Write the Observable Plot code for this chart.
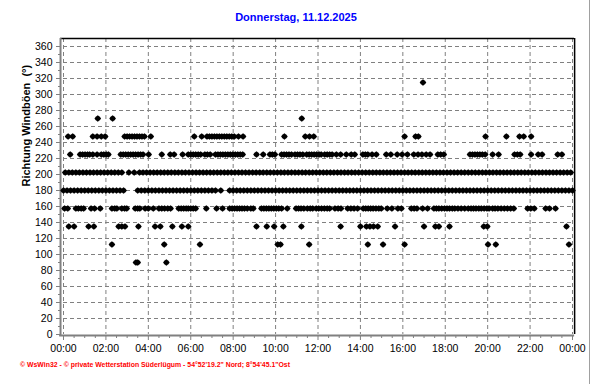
<!DOCTYPE html>
<html><head><meta charset="utf-8">
<script src="https://cdn.jsdelivr.net/npm/d3@7"></script>
<script src="https://cdn.jsdelivr.net/npm/@observablehq/plot@0.6"></script>
<style>
body{margin:0;background:#fff;}
#wrap{position:relative;width:592px;height:384px;overflow:hidden;font-family:"Liberation Sans",Arial,sans-serif;background:#fff;}
#chart{position:absolute;left:0;top:0;}
#title{position:absolute;left:0;width:592px;top:11px;text-align:center;color:#0000ff;font-weight:bold;font-size:11px;line-height:13px;}
#edge{position:absolute;left:589px;top:0;width:1px;height:384px;background:#a0a0a0;}
#footer{position:absolute;left:0;top:356px;}
</style></head><body>
<div id="wrap"><div id="chart"></div><div id="title">Donnerstag, 11.12.2025</div><div id="edge"></div>
<svg id="footer" width="320" height="16"><text x="20" y="11" fill="#ff0000" font-weight="bold" font-size="7" font-family="Liberation Sans, Arial, sans-serif" textLength="270" lengthAdjust="spacingAndGlyphs">© WsWin32  -  © private Wetterstation Süderlügum  -  54°52'19.2" Nord; 8°54'45.1"Ost</text></svg>
</div>
<script>
// Wind gust direction levels (degrees) and the times (HH:MM) at which each level was recorded
const t315 = ["16:57"];
const t270 = ["1:37","2:19","11:14"];
const t247 = ["0:13","0:26","1:23","1:35","1:47","1:58","2:53","3:00","3:07","3:14","3:21","3:28","3:35","3:42","3:49","4:07","6:10","6:31","6:46","6:53","7:00","7:07","7:14","7:21","7:28","7:35","7:42","7:49","7:56","8:03","8:15","8:28","10:25","11:24","11:36","11:48","16:05","16:36","16:44","19:54","20:53","21:30","21:42","22:03"];
const t225 = ["0:19","0:47","0:54","1:01","1:08","1:14","1:23","1:35","1:47","1:54","2:01","2:07","2:42","2:49","2:56","3:03","3:10","3:17","3:24","3:31","3:38","3:45","4:01","4:38","5:02","5:13","5:37","5:53","6:00","6:07","6:14","6:21","6:28","6:40","6:47","6:55","7:10","7:17","7:24","7:31","7:38","7:45","7:52","7:59","8:06","8:13","8:20","8:27","9:06","9:25","9:44","9:51","9:58","10:17","10:24","10:31","10:38","10:45","10:55","11:02","11:09","11:17","11:28","11:35","11:42","11:49","11:56","12:03","12:09","12:19","12:26","12:33","12:40","12:52","13:04","13:20","13:34","13:44","14:07","14:14","14:21","14:33","14:45","15:13","15:26","15:44","15:58","16:13","16:31","16:43","16:54","17:06","17:17","17:39","17:47","17:56","19:10","19:17","19:24","19:31","19:38","19:45","19:53","20:14","20:31","21:16","21:24","21:32","22:03","22:23","22:34","23:18","23:30"];
const t202 = `0:05 0:15 0:25 0:35 0:45 0:55 1:05 1:15 1:25 1:35 1:45 1:55 2:05 2:15 2:25 2:35 2:45
3:05 3:20 3:35 3:45 3:55
4:05 4:15 4:25 4:35 4:45 4:55 5:05 5:15 5:25 5:35 5:45 5:55
6:05 6:15 6:25 6:35 6:45 6:55 7:05 7:15 7:25 7:35 7:45 7:55
8:05 8:15 8:25 8:35 8:45 8:55 9:05 9:15 9:25 9:35 9:45 9:55
10:05 10:15 10:25 10:35 10:45 10:55 11:05 11:15 11:25 11:35 11:45 11:55
12:05 12:15 12:25 12:35 12:45 12:55 13:05 13:15 13:25 13:35 13:45 13:55
14:05 14:15 14:25 14:35 14:45 14:55 15:05 15:15 15:25 15:35 15:45 15:55
16:05 16:15 16:25 16:35 16:45 16:55 17:05 17:15 17:25 17:35 17:45 17:55
18:05 18:15 18:25 18:35 18:45 18:55 19:05 19:15 19:25 19:35 19:45 19:55
20:05 20:15 20:25 20:35 20:45 20:55 21:05 21:15 21:25 21:35 21:45 21:55
22:05 22:15 22:25 22:35 22:45 22:55 23:05 23:15 23:25 23:35 23:45 23:55`.trim().split(/\s+/);
const t180 = `0:00 0:10 0:20 0:30 0:40 0:50 1:00 1:10 1:20 1:30 1:40 1:50 2:00 2:10 2:20 2:30 2:40 2:50
3:30 3:40 3:50 4:00 4:10 4:20 4:30 4:40 4:50 5:00 5:10 5:20 5:30 5:40 5:50
6:00 6:10 6:20 6:30 6:40 6:50 7:00 7:10 7:25 7:50
8:00 8:10 8:20 8:30 8:40 8:50 9:00 9:10 9:20 9:30 9:40 9:50
10:00 10:10 10:20 10:30 10:40 10:50 11:00 11:10 11:20 11:30 11:40 11:50
12:00 12:10 12:20 12:30 12:40 12:50 13:00 13:10 13:20 13:30 13:40 13:50
14:00 14:10 14:20 14:30 14:40 14:50 15:00 15:10 15:20 15:30 15:40 15:50
16:00 16:10 16:20 16:30 16:40 16:50 17:00 17:10 17:20 17:30 17:40 17:50
18:00 18:10 18:20 18:30 18:40 18:50 19:00 19:10 19:20 19:30 19:40 19:50
20:00 20:10 20:20 20:30 20:40 20:50 21:00 21:10 21:20 21:30 21:40 21:50
22:00 22:10 22:20 22:30 22:40 22:50 23:00 23:10 23:20 23:30 23:40 23:50 24:00`.trim().split(/\s+/);
const t157 = ["0:03","0:12","0:35","0:42","0:50","0:57","1:18","1:28","1:44","2:17","2:25","2:31","2:45","2:53","2:59","3:23","3:30","3:36","3:51","4:00","4:14","4:30","4:38","4:46","4:55","5:03","5:26","5:33","5:40","5:47","5:53","6:00","6:07","6:14","6:44","7:13","7:30","7:50","7:57","8:04","8:11","8:18","8:25","8:32","8:40","8:50","8:57","9:20","9:27","9:34","9:41","9:48","9:55","10:02","10:09","10:17","10:33","10:58","11:05","11:12","11:20","11:30","11:38","11:45","11:55","12:02","12:10","12:18","12:26","12:33","12:48","12:57","13:05","13:24","13:33","13:42","13:52","14:08","14:15","14:22","14:29","14:36","14:44","14:52","14:59","15:16","15:29","15:46","15:56","16:24","16:32","16:40","16:56","17:10","17:28","17:35","17:42","17:50","17:58","18:05","18:12","18:20","18:27","18:36","18:45","18:55","19:05","19:13","19:20","19:27","19:35","19:42","19:50","19:58","20:04","20:14","20:21","20:29","20:38","20:47","20:56","21:05","21:14","21:53","22:02","22:12","22:44","22:55","23:12"];
const t135 = ["0:15","0:30","1:11","1:26","2:36","2:45","2:54","3:32","4:19","4:34","5:08","5:35","5:53","9:06","9:35","9:56","10:22","11:13","13:04","14:00","14:17","14:27","14:37","14:49","15:38","17:00","17:32","17:42","18:12","19:49","19:59","23:43"];
const t112 = ["2:17","4:45","6:26","10:06","10:14","11:35","14:21","15:04","16:05","20:01","20:23","23:50"];
const t90 = ["3:25","3:30","4:51"];

const levels = [90, 112.5, 135, 157.5, 180, 202.5, 225, 247.5, 270, 315];
const levelTimes = [t90, t112, t135, t157, t180, t202, t225, t247, t270, t315];
const xTicks = [0,2,4,6,8,10,12,14,16,18,20,22,24];
const xTickLabels = ["00:00","02:00","04:00","06:00","08:00","10:00","12:00","14:00","16:00","18:00","20:00","22:00","00:00"];
const yTicks = [0,20,40,60,80,100,120,140,160,180,200,220,240,260,280,300,320,340,360];
const yLabel = "Richtung Windböen  (°)";

const hm = s => { const [h, m] = s.split(":").map(Number); return h + m / 60; };
const data = levels.flatMap((v, i) => levelTimes[i].map(t => ({t: hm(t), dir: v})));
const xMinor = d3.range(0, 24.01, 0.5).filter(v => v % 2 !== 0);
const yMinor = d3.range(10, 370, 20);
const gray = "#808080";

// fat diamond marker, like the bitmap diamond of the original
const fatDiamond = {
  draw(ctx, size) {
    const k = Math.sqrt(size / Math.PI);
    const a = 0.62 * k, b = 0.5 * k;
    ctx.moveTo(k, 0); ctx.lineTo(a, b); ctx.lineTo(b, a); ctx.lineTo(0, k);
    ctx.lineTo(-b, a); ctx.lineTo(-a, b); ctx.lineTo(-k, 0);
    ctx.lineTo(-a, -b); ctx.lineTo(-b, -a); ctx.lineTo(0, -k);
    ctx.lineTo(b, -a); ctx.lineTo(a, -b); ctx.closePath();
  }
};

const chart = Plot.plot({
  width: 592, height: 384,
  marginLeft: 63, marginRight: 20, marginTop: 38, marginBottom: 50,
  x: {domain: [0, 24]},
  y: {domain: [0, 370]},
  style: {fontFamily: "Liberation Sans, Arial, sans-serif", fontSize: "10.5px", color: "black", background: "transparent"},
  marks: [
    Plot.gridX(xTicks, {stroke: gray, strokeOpacity: 1, strokeDasharray: "4,3"}),
    Plot.gridY(yTicks.filter(v => v > 0), {stroke: gray, strokeOpacity: 1, strokeDasharray: "4,3"}),
    Plot.ruleY([370], {x1: -0.14, x2: 24.1, stroke: "black", strokeWidth: 1.5}),
    Plot.ruleX([24.1], {y1: 0, y2: 370, stroke: "black", strokeWidth: 1.5}),
    Plot.ruleX([-0.14], {y1: -2.5, y2: 370, stroke: gray, strokeWidth: 2}),
    Plot.ruleY([0], {x1: -0.18, x2: 24.1, stroke: gray, strokeWidth: 2, dy: 1}),
    Plot.axisY(yTicks, {tickSize: 4, tickPadding: 4, dx: -3, stroke: gray, fill: "black", label: null, tickFormat: d => String(d)}),
    Plot.axisY(yMinor, {tickSize: 2, dx: -3, stroke: gray, label: null, tickFormat: () => ""}),
    Plot.axisX(xTicks, {tickSize: 5, tickPadding: 4, dy: 1, stroke: gray, fill: "black", label: null, tickFormat: d => xTickLabels[xTicks.indexOf(d)]}),
    Plot.axisX(xMinor, {tickSize: 3, dy: 1, stroke: gray, label: null, tickFormat: () => ""}),
    Plot.dot(data, {x: "t", y: "dir", symbol: fatDiamond, r: 3.3, fill: "black", stroke: "none"}),
    Plot.text([yLabel], {frameAnchor: "left", dx: -37, rotate: -90, fontWeight: "bold", fontSize: 11, fill: "black"})
  ]
});
document.getElementById("chart").append(chart);
</script>
</body></html>
